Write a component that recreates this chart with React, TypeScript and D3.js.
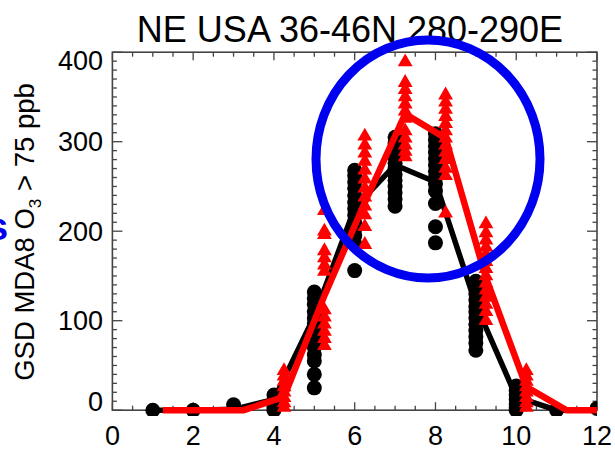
import React from "react";
import * as d3 from "d3";

const months = [1, 2, 3, 4, 5, 6, 7, 8, 9, 10, 11, 12];
const blackMean = [0, 0, 1, 12, 105, 226, 274, 255, 118, 15, 0, 0];
const redMean = [0, 0, 0, 15, 128, 232, 331, 304, 148, 26, 0, 0];
const redOffset = 0.25;

const blackPoints: number[][] = [
  [0],
  [0],
  [6],
  [17, 10, 3, 0],
  [132, 125, 118, 110, 103, 97, 90, 84, 78, 70, 62, 55, 40, 25],
  [268, 262, 255, 248, 240, 232, 225, 218, 210, 202, 195, 186, 156],
  [305, 298, 290, 283, 276, 270, 263, 257, 250, 243, 236, 228],
  [309, 302, 295, 288, 281, 274, 267, 260, 253, 245, 231, 205, 187],
  [144, 137, 130, 123, 116, 110, 103, 96, 89, 82, 75, 67],
  [27, 22, 17, 12, 7, 3, 0],
  [0],
  [2],
];

const redPoints: number[][] = [
  [],
  [],
  [],
  [44, 38, 32, 26, 20, 14, 8, 3],
  [223, 200, 196, 178, 170, 162, 155, 112, 104, 96, 88, 80, 72],
  [306, 296, 287, 278, 268, 258, 248, 238, 228, 218, 205, 185],
  [389, 366, 358, 350, 342, 334, 326, 312, 304, 296, 289, 283],
  [352, 344, 336, 328, 320, 312, 304, 296, 288, 280, 270, 262, 220],
  [208, 198, 190, 182, 174, 166, 158, 150, 142, 134, 126, 118, 110, 100],
  [44, 38, 32, 26, 20, 14, 8, 3],
  [],
  [],
];

const xTicks = [0, 2, 4, 6, 8, 10, 12];
const yTicks = [0, 100, 200, 300, 400];
const titleText = "NE USA 36-46N 280-290E";

const W = 615;
const H = 450;
const x = d3.scaleLinear().domain([0, 12]).range([112.4, 597]);
const y = d3.scaleLinear().domain([0, 400]).range([410.2, 52.2]);

const FONT = "'Liberation Sans', Arial, Helvetica, sans-serif";
const AX = "#444";

export default function App() {
  const [x0, x1] = x.range();
  const [y0, y1] = y.range();
  const lineB = d3
    .line<number>()
    .x((_, i) => x(months[i]))
    .y((d) => y(d));
  const lineR = d3
    .line<number>()
    .x((_, i) => x(months[i] + redOffset))
    .y((d) => y(d));
  const tri = d3.symbol().type(d3.symbolTriangle).size(95)();

  const xMinor = d3.range(0, 12.01, 0.5);
  const yMinor = d3.range(0, 400.01, 10);

  return (
    <div style={{ position: "fixed", left: 0, top: 0 }}>
      <svg width={W} height={H} style={{ display: "block", background: "#fff" }}>
        <defs>
          <clipPath id="plotclip">
            <rect x={x0} y={0} width={x1 - x0} height={416} />
          </clipPath>
        </defs>
        <text x={350} y={42} textAnchor="middle" fontFamily={FONT} fontSize={36} fill="#000">
          {titleText}
        </text>
        <rect x={x0} y={y1} width={x1 - x0} height={y0 - y1} fill="none" stroke={AX} strokeWidth={1.6} />
        {xMinor.map((t) => {
          const major = Math.abs(t % 2) < 1e-6;
          const len = major ? 8 : 4.5;
          return (
            <g key={"xt" + t}>
              <line x1={x(t)} x2={x(t)} y1={y0} y2={y0 - len} stroke={AX} strokeWidth={1.3} />
              <line x1={x(t)} x2={x(t)} y1={y1} y2={y1 + len} stroke={AX} strokeWidth={1.3} />
            </g>
          );
        })}
        {yMinor.map((t) => {
          const major = Math.abs(t % 100) < 1e-6;
          const len = major ? 10 : 4.5;
          return (
            <g key={"yt" + t}>
              <line x1={x0} x2={x0 + len} y1={y(t)} y2={y(t)} stroke={AX} strokeWidth={1.3} />
              <line x1={x1} x2={x1 - len} y1={y(t)} y2={y(t)} stroke={AX} strokeWidth={1.3} />
            </g>
          );
        })}
        {xTicks.map((t) => (
          <text key={"xl" + t} x={x(t)} y={445} textAnchor="middle" fontFamily={FONT} fontSize={27} fill="#000">
            {t}
          </text>
        ))}
        {yTicks.map((t) => {
          const shift = t === 0 ? -9 : t === 400 ? 8 : 0;
          return (
            <text
              key={"yl" + t}
              x={103}
              y={y(t) + shift + 9.5}
              textAnchor="end"
              fontFamily={FONT}
              fontSize={27}
              fill="#000"
            >
              {t}
            </text>
          );
        })}
        <text
          transform="translate(34,232) rotate(-90)"
          textAnchor="middle"
          fontFamily={FONT}
          fontSize={27.5}
          fill="#000"
        >
          <tspan>GSD MDA8 O</tspan>
          <tspan fontSize={17} dy={7}>3</tspan>
          <tspan dy={-7}> &gt; 75 ppb</tspan>
        </text>
        <text x={-13} y={240} fontFamily={FONT} fontWeight="bold" fontSize={38} fill="#0000ee">
          s
        </text>
        <g clipPath="url(#plotclip)">
          {blackPoints.map((vals, i) =>
            vals.map((v, j) => (
              <circle key={"b" + i + "_" + j} cx={x(months[i])} cy={y(v)} r={7.5} fill="#000" />
            ))
          )}
          <path d={lineB(blackMean) || ""} fill="none" stroke="#000" strokeWidth={5.5} strokeLinejoin="miter" />
          {redPoints.map((vals, i) =>
            vals.map((v, j) => (
              <path
                key={"r" + i + "_" + j}
                d={tri || ""}
                transform={`translate(${x(months[i] + redOffset)},${y(v)})`}
                fill="#ff0000"
              />
            ))
          )}
          <path d={lineR(redMean) || ""} fill="none" stroke="#ff0000" strokeWidth={6.5} strokeLinejoin="miter" />
        </g>
        <ellipse cx={428} cy={159} rx={112} ry={119} fill="none" stroke="#0000f0" strokeWidth={9} />
      </svg>
    </div>
  );
}
